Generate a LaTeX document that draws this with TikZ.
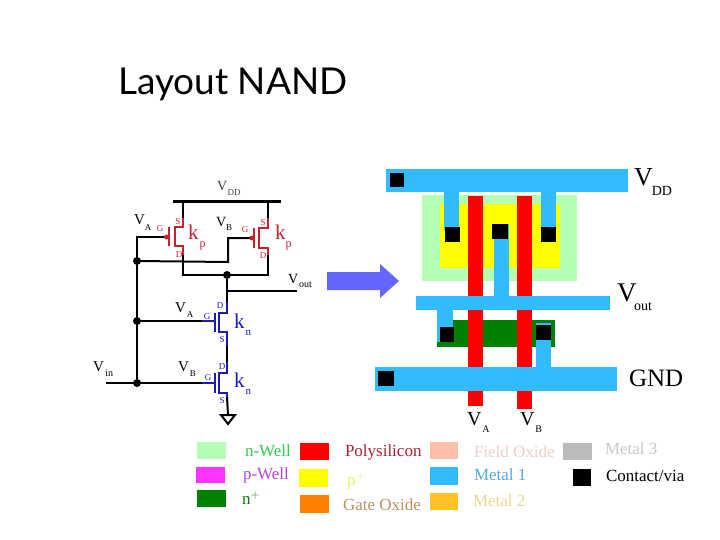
\documentclass[tikz,border=0pt]{standalone}
\usepackage{fontspec}
\setmainfont{Liberation Serif}
\newfontfamily\titlefont{Lato}
\definecolor{nwell}{HTML}{B4FFB4}
\definecolor{pwell}{HTML}{FF33FF}
\definecolor{nplus}{HTML}{008000}
\definecolor{poly}{HTML}{FF0000}
\definecolor{pplus}{HTML}{FFFF00}
\definecolor{gateox}{HTML}{FF8000}
\definecolor{fieldox}{HTML}{FFBFA8}
\definecolor{metalone}{HTML}{33BBFF}
\definecolor{metaltwo}{HTML}{FFC125}
\definecolor{metalthree}{HTML}{BBBBBB}
\definecolor{pmosred}{HTML}{C8202C}
\definecolor{nmosblue}{HTML}{1C1CB4}
\definecolor{arrowblue}{HTML}{6666FF}
\newcommand{\sublab}[5]{\fontsize{#3}{#3}\selectfont #1\kern#5pt\raisebox{-0.35em}{\fontsize{#4}{#4}\selectfont #2}}
\tikzset{
  txt/.style={anchor=base west,inner sep=0pt,outer sep=0pt},
  leg/.style={anchor=west,inner sep=0pt,outer sep=0pt,font=\fontsize{17}{17}\selectfont},
  tiny/.style={anchor=center,inner sep=0pt,outer sep=0pt,font=\fontsize{9}{9}\selectfont},
  wire/.style={line width=2pt,black,line cap=butt},
  thickwire/.style={line width=3pt,black},
  pm/.style={line width=2.6pt,pmosred},
  nm/.style={line width=2.6pt,nmosblue},
  dot/.style={circle,fill=black,inner sep=0pt,minimum size=8pt},
}
\begin{document}
\begin{tikzpicture}[x=1pt,y=-1pt]
\useasboundingbox (0,0) rectangle (720,540);
\fill[white] (0,0) rectangle (720,540);
\node[txt] (title) at (118,95) {\titlefont\fontsize{37}{37}\selectfont Layout NAND};

% ---------- schematic ----------
\coordinate (vddl) at (173,202); \coordinate (vddr) at (281,202);
\coordinate (vddA) at (183,202); \coordinate (vddB) at (268,202);
\coordinate (sA) at (183,218); \coordinate (sB) at (268,218);
\coordinate (dA) at (183,255); \coordinate (dB) at (268,255);
\coordinate (outA) at (183,275); \coordinate (outB) at (268,275);
\coordinate (gateA) at (137,237); \coordinate (gateAe) at (165,237);
\coordinate (gateB) at (228,238); \coordinate (gateBe) at (250,238);
\coordinate (gateBm) at (228,262);
\coordinate (voute) at (297,291); \coordinate (vouts) at (227,291);
\coordinate (d1) at (227,302); \coordinate (s1) at (227,346);
\coordinate (d2) at (227,362); \coordinate (s2) at (227,397);
\coordinate (g1) at (202,321); \coordinate (g2) at (202,383);
\coordinate (vin) at (106,383);
\node[dot] (j1) at (137,261) {};
\node[dot] (j2) at (137,321) {};
\node[dot] (j3) at (137,383) {};
\node[dot] (jout) at (227,275) {};
\coordinate (gndtop) at (228,415);

\draw[thickwire] (vddl) -- (vddr);
\draw[wire] (vddA) -- (sA);
\draw[wire] (vddB) -- (sB);
\draw[wire,line cap=rect] (dA) -- (outA) -- (outB) -- (dB);
\draw[wire] (gateAe) -- (gateA) -- (j3);
\draw[wire] (j1) -- (gateBm) -- (gateB) -- (gateBe);
\draw[wire] (jout) -- (d1);
\draw[wire] (vouts) -- (voute);
\draw[wire] (j2) -- (g1);
\draw[wire] (vin) -- (g2);
\draw[wire] (s1) -- (d2);
\draw[wire] (s2) -- (gndtop);
\draw[wire,fill=white] (221,415) -- (235,415) -- (228,424) -- cycle;

% PMOS A
\draw[pm] (sA) -- (183,227) -- (175,227) -- (175,246) -- (183,246) -- (dA);
\draw[pm] (169,227) -- (169,246);
\fill[pmosred] (166.5,237) circle (2.5);
% PMOS B
\draw[pm] (sB) -- (268,228) -- (259,228) -- (259,248) -- (268,248) -- (dB);
\draw[pm] (254,228) -- (254,248);
\fill[pmosred] (252,238) circle (2.5);
% NMOS 1
\draw[nm] (d1) -- (227,313) -- (219,313) -- (219,332) -- (227,332) -- (s1);
\draw[nm] (215,313) -- (215,332);
\draw[nm] (g1) -- (215,321);
% NMOS 2
\draw[nm] (d2) -- (227,373) -- (219,373) -- (219,393) -- (227,393) -- (s2);
\draw[nm] (215,373) -- (215,393);
\draw[nm] (g2) -- (215,383);

% schematic labels
\node[txt,text=black!75] (lvdd) at (217,191) {\sublab{V}{DD}{14}{9}{0.5}};
\node[txt] (lva) at (134,225) {\sublab{V}{A}{15}{9}{0}};
\node[txt] (lvb) at (216,226) {\sublab{V}{B}{14}{9}{0}};
\node[txt] (lvout) at (288,283) {\sublab{V}{out}{14}{10}{1}};
\node[txt] (lva2) at (175,312) {\sublab{V}{A}{15}{9}{1}};
\node[txt] (lvb2) at (178,371) {\sublab{V}{B}{15}{9}{1}};
\node[txt] (lvin) at (93,371) {\sublab{V}{in}{15}{10}{1.5}};
\node[txt,text=pmosred] (kpa) at (188,240) {\sublab{k}{p}{21}{12}{1}};
\node[txt,text=pmosred] (kpb) at (275,240) {\sublab{k}{p}{21}{12}{0}};
\node[txt,text=nmosblue] (kna) at (234,328) {\sublab{k}{n}{21}{11}{1}};
\node[txt,text=nmosblue] (knb) at (234,387) {\sublab{k}{n}{21}{11}{1}};
\node[tiny,text=pmosred] (ga) at (160,229) {G};
\node[tiny,text=pmosred] (sa) at (178,222) {S};
\node[tiny,text=pmosred] (da) at (179,255) {D};
\node[tiny,text=pmosred] (gb) at (245,230) {G};
\node[tiny,text=pmosred] (sb) at (263,223) {S};
\node[tiny,text=pmosred] (db) at (263,256) {D};
\node[tiny,text=nmosblue] (dn1) at (220,306) {D};
\node[tiny,text=nmosblue] (gn1) at (207,317) {G};
\node[tiny,text=nmosblue] (sn1) at (222,340) {S};
\node[tiny,text=nmosblue] (dn2) at (222,367) {D};
\node[tiny,text=nmosblue] (gn2) at (208,378) {G};
\node[tiny,text=nmosblue] (sn2) at (222,401) {S};

% ---------- arrow ----------
\fill[arrowblue] (327,272) -- (380,272) -- (380,264) -- (399,281) -- (380,298) -- (380,290) -- (327,290) -- cycle;

% ---------- layout ----------
\fill[nwell] (422,195) rectangle (577,281);
\fill[pplus] (440,204) rectangle (560,268);
\fill[nplus] (437,320) rectangle (555,347);
\fill[poly] (468,196) rectangle (483,406);
\fill[poly] (517,196) rectangle (532,409);
\fill[metalone] (444,190) rectangle (459,230);
\fill[metalone] (541,190) rectangle (556,230);
\fill[metalone] (494,224) rectangle (509,298);
\fill[metalone] (437,308) rectangle (453,342);
\fill[metalone] (536,323) rectangle (551,369);
\fill[metalone] (386,169) rectangle (628,192);
\fill[metalone] (416,296) rectangle (610,310);
\fill[metalone] (375,367) rectangle (617,391);
\fill[black] (390,173) rectangle (404,187);
\fill[black] (445,227) rectangle (460,242);
\fill[black] (541,227) rectangle (556,242);
\fill[black] (492,224) rectangle (508,239);
\fill[black] (440,327) rectangle (454,342);
\fill[black] (536,325) rectangle (551,340);
\fill[black] (378,371) rectangle (394,386);

\node[txt] (tvdd) at (634,186) {\sublab{V}{DD}{26}{14}{-1}};
\node[txt] (tvout) at (617,301) {\sublab{V}{out}{27}{14}{-2.5}};
\node[txt] (tgnd) at (629,386) {\fontsize{25}{25}\selectfont GND};
\node[txt] (tva) at (467,425) {\sublab{V}{A}{20}{10}{1}};
\node[txt] (tvb) at (520,425) {\sublab{V}{B}{20}{10}{1}};

% ---------- legend ----------
\fill[nwell] (197,442) rectangle (226,459);
\fill[pwell] (196,467) rectangle (225,483);
\fill[nplus] (197,490) rectangle (226,507);
\fill[poly] (300,443) rectangle (329,460);
\fill[pplus] (299,469) rectangle (328,487);
\fill[gateox] (300,495) rectangle (329,513);
\fill[fieldox] (430,442) rectangle (458,459);
\fill[metalone] (430,467) rectangle (458,485);
\fill[metaltwo] (430,493) rectangle (458,510);
\fill[metalthree] (563,443) rectangle (592,460);
\fill[black] (573,469) rectangle (591,486);
\node[leg,text={rgb,255:red,51;green,204;blue,85}] (ln) at (245,451) {n-Well};
\node[leg,text={rgb,255:red,187;green,68;blue,221}] (lp) at (243,475) {p-Well};
\node[leg,text=nplus] (lnp) at (242,498) {n$^{+}$};
\node[leg,text={rgb,255:red,170;green,34;blue,51}] (lpoly) at (345,452) {Polysilicon};
\node[leg,text={rgb,255:red,232;green,240;blue,96}] (lpp) at (347,481) {p$^{+}$};
\node[leg,text={rgb,255:red,192;green,144;blue,96}] (lgo) at (343,505) {Gate Oxide};
\node[leg,text={rgb,255:red,238;green,208;blue,200}] (lfo) at (474,452) {Field Oxide};
\node[leg,text={rgb,255:red,85;green,170;blue,221}] (lm1) at (474,475) {Metal 1};
\node[leg,text={rgb,255:red,232;green,216;blue,144}] (lm2) at (473,501) {Metal 2};
\node[leg,text={rgb,255:red,200;green,200;blue,200}] (lm3) at (605,449) {Metal 3};
\node[leg] (lcv) at (606,476) {Contact/via};
\end{tikzpicture}
\end{document}
